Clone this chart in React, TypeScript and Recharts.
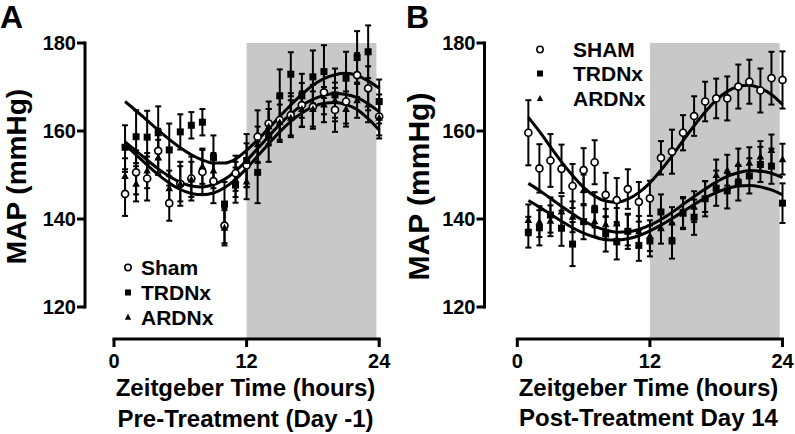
import React from "react";
import {
  ComposedChart,
  ErrorBar,
  Line,
  ReferenceArea,
  ReferenceLine,
  Scatter,
  XAxis,
  YAxis
} from "recharts";

// hours after lights on (ZT)
const hours = [1, 2, 3, 4, 5, 6, 7, 8, 9, 10, 11, 12, 13, 14, 15, 16, 17, 18, 19, 20, 21, 22, 23, 24];
const xTicks = [0, 12, 24];
const yTicks = [120, 140, 160, 180];
const darkStart = 12;
const darkEnd = 23.75;

// Panel A: pre-treatment (day -1)
const shamPre = [145.7, 150.6, 149.2, 155.5, 143.6, 148, 149.2, 150.7, 148.6, 138.5, 150.4, 152.2, 158.7, 161.7, 162.5, 163.6, 165.9, 165.5, 168.8, 164.8, 166.7, 172.7, 169.7, 163.3];
const shamPreErr = [5, 5, 5, 5, 4, 5, 5, 5, 5, 4, 4, 5, 6, 5, 5, 5, 5, 5, 5, 5, 5, 5, 5, 5];
const trdnxPre = [156.3, 158.7, 158.6, 159.6, 155.7, 159.8, 161.3, 162, 154, 143.4, 147.7, 153.3, 150.6, 159, 168, 172.9, 168, 172.3, 173.5, 168.2, 172, 176.7, 178, 166.7];
const trdnxPreErr = [5, 6, 6, 6, 6, 4, 3, 3, 5, 5, 4, 6, 7, 6, 6, 5, 5, 6, 6, 6, 6, 6, 6, 5];
const ardnxPre = [149.8, 148, 151, 154, 147, 148, 149, 152, 151, 138, 149, 148.5, 157, 161, 162, 163, 165, 165, 166, 167, 165, 167, 166, 163];
const ardnxPreErr = [4, 4, 4, 4, 4, 4, 4, 4, 4, 4, 4, 4, 4, 4, 4, 4, 4, 4, 4, 4, 4, 4, 4, 4];
const trdnxPreFit = [166.7, 164.6, 162.4, 160.2, 158.1, 156.2, 154.6, 153.4, 152.7, 152.7, 153.6, 155.6, 158, 160.6, 163.3, 165.9, 168.3, 170.4, 171.9, 172.8, 173.1, 172.6, 171.4, 169.7];
const shamPreFit = [157.5, 155.5, 153.4, 151.4, 149.7, 148.3, 147.5, 147.3, 147.8, 149, 150.9, 153.3, 156, 158.8, 161.5, 163.9, 165.8, 167.2, 168.1, 168.5, 168.3, 167.6, 166.2, 164.4];
const ardnxPreFit = [156.8, 154.6, 152.3, 150.1, 148.2, 146.7, 145.8, 145.5, 145.9, 147.1, 149, 151.5, 154.3, 157.1, 159.8, 162.2, 164.1, 165.5, 166.3, 166.5, 166, 164.9, 162.8, 160.2];

// Panel B: post-treatment day 14
const shamPost = [159.6, 151.5, 153.3, 151.4, 147.5, 151.1, 152.9, 145.5, 144.3, 146.8, 143.9, 144.7, 153.9, 155.3, 159.6, 163.4, 166.7, 167.4, 167.4, 170.1, 171.2, 169.2, 172, 171.6];
const shamPostErr = [7.4, 5.5, 6, 5.5, 5, 5, 5, 5, 5, 4.5, 4.5, 4, 3.8, 5, 4, 4.5, 4.5, 4.5, 5, 5, 5, 5, 6, 6.5];
const trdnxPost = [137, 138, 140.9, 137.9, 134.3, 139.4, 142.1, 136.6, 134.8, 137.2, 134, 135, 141.6, 135, 141.5, 140.4, 144.6, 147, 146.4, 148.2, 149.8, 152.4, 152, 143.6];
const trdnxPostErr = [3.5, 4, 4, 4, 5, 4, 4, 4, 4, 4, 3.5, 3.5, 4, 4, 3.5, 4, 4, 4, 4, 4, 4, 4, 4, 4.5];
const ardnxPost = [139.8, 139.4, 139.6, 141.7, 140.5, 146.6, 139.5, 138.8, 139, 137.5, 137.2, 136.2, 137.9, 139.2, 141.2, 142.8, 145.1, 150, 151.1, 152.5, 152.8, 154.2, 155.7, 153.6];
const ardnxPostErr = [3.5, 3.5, 3.5, 3.5, 3.5, 3.5, 3.5, 3.5, 3.5, 3.5, 3.5, 3.5, 3.5, 3.5, 3.5, 3.5, 3.5, 3.5, 3.5, 3.5, 3.5, 3.5, 3.5, 3.5];
const shamPostFit = [163.1, 159.9, 156.4, 153, 149.9, 147.2, 145.2, 144.1, 143.8, 144.5, 146, 148.2, 151.1, 154.3, 157.8, 161.2, 164.3, 167, 169, 170.1, 170.4, 169.7, 168.3, 166];
const ardnxPostFit = [148.1, 146.5, 144.7, 142.9, 141.2, 139.6, 138.3, 137.5, 137, 137.1, 137.6, 138.6, 139.9, 141.5, 143.3, 145.1, 146.8, 148.4, 149.7, 150.5, 151, 150.9, 150.4, 149.4];
const trdnxPostFit = [144.2, 142.7, 141.1, 139.5, 138, 136.8, 135.9, 135.3, 135.2, 135.5, 136.2, 137.3, 138.6, 140.1, 141.7, 143.3, 144.8, 146, 146.9, 147.5, 147.6, 147.3, 146.6, 145.5];

const FONT = '"Liberation Sans", Arial, Helvetica, sans-serif';
const H = 434;
const PLOT_TOP = 43;
const PLOT_BOTTOM = 339;
const PX_PER_HOUR = 11.05;
const Y_MAX = 180;
const Y_MIN = Y_MAX - (PLOT_BOTTOM - PLOT_TOP) / 4.4;
const X_MAX = 25;

const toPoints = (vals: number[], errs: number[]) =>
  hours.map((h, i) => ({ h, v: vals[i], e: errs[i] }));
const toFit = (vals: number[]) => hours.map((h, i) => ({ h, fit: vals[i] }));

const OpenCircle = (p: any) => (
  <circle cx={p.cx} cy={p.cy} r={3.5} fill="#fff" stroke="#000" strokeWidth={1.7} />
);
const FilledSquare = (p: any) => (
  <rect x={p.cx - 3.5} y={p.cy - 3.5} width={7} height={7} fill="#000" />
);
const FilledTriangle = (p: any) => (
  <polygon
    points={`${p.cx},${p.cy - 4} ${p.cx - 3.8},${p.cy + 3} ${p.cx + 3.8},${p.cy + 3}`}
    fill="#000"
  />
);

interface PanelProps {
  left: number;
  width: number;
  axisX: number;
  zeroX: number;
  sham: number[];
  shamErr: number[];
  trdnx: number[];
  trdnxErr: number[];
  ardnx: number[];
  ardnxErr: number[];
  fits: number[][];
}

function Panel(p: PanelProps) {
  const xMin = -(p.zeroX - p.axisX) / PX_PER_HOUR;
  const plotLeft = p.axisX - p.left;
  const plotRight = p.zeroX - p.left + X_MAX * PX_PER_HOUR;
  const yAxisW = 60;
  const xAxisH = 30;
  const margin = {
    top: PLOT_TOP,
    left: plotLeft - yAxisW,
    right: p.width - plotRight,
    bottom: H - PLOT_BOTTOM - xAxisH
  };
  const series = [
    { pts: toPoints(p.sham, p.shamErr), shape: OpenCircle },
    { pts: toPoints(p.trdnx, p.trdnxErr), shape: FilledSquare },
    { pts: toPoints(p.ardnx, p.ardnxErr), shape: FilledTriangle }
  ];
  const tickStyle = { fontSize: 20, fontWeight: 700, fill: "#000", fontFamily: FONT };

  return (
    <div style={{ position: "absolute", left: p.left, top: 0 }}>
      <ComposedChart width={p.width} height={H} margin={margin}>
        <XAxis
          type="number"
          dataKey="h"
          domain={[xMin, X_MAX]}
          ticks={xTicks}
          allowDataOverflow
          axisLine={false}
          tickSize={8}
          tickMargin={7}
          tickLine={{ stroke: "#000", strokeWidth: 3 }}
          tick={tickStyle}
          height={xAxisH}
        />
        <YAxis
          type="number"
          dataKey="v"
          domain={[Y_MIN, Y_MAX]}
          ticks={yTicks}
          allowDataOverflow
          axisLine={false}
          tickSize={8}
          tickMargin={1}
          tickLine={{ stroke: "#000", strokeWidth: 3 }}
          tick={tickStyle}
          width={yAxisW}
        />
        <ReferenceArea
          x1={darkStart}
          x2={darkEnd}
          y1={Y_MIN}
          y2={Y_MAX}
          fill="#c8c8c8"
          fillOpacity={1}
          stroke="none"
        />
        {series.map((s, i) => (
          <Scatter key={i} data={s.pts} shape={s.shape} isAnimationActive={false}>
            <ErrorBar
              dataKey="e"
              direction="y"
              width={3}
              stroke="#000"
              strokeWidth={2}
              isAnimationActive={false}
            />
          </Scatter>
        ))}
        {p.fits.map((f, i) => (
          <Line
            key={i}
            data={toFit(f)}
            dataKey="fit"
            type="monotone"
            stroke="#000"
            strokeWidth={3}
            dot={false}
            activeDot={false}
            isAnimationActive={false}
          />
        ))}
        <ReferenceLine
          segment={[{ x: xMin, y: 120 }, { x: xMin, y: 180 }]}
          stroke="#000"
          strokeWidth={3}
          strokeLinecap="square"
        />
        <ReferenceLine
          segment={[{ x: 0, y: Y_MIN }, { x: 24, y: Y_MIN }]}
          stroke="#000"
          strokeWidth={3}
          strokeLinecap="square"
        />
      </ComposedChart>
    </div>
  );
}

function LegendRows({ x, textX, rows }: { x: number; textX: number; rows: { label: string; y: number; kind: string }[] }) {
  return (
    <g>
      {rows.map((r) => (
        <g key={r.label}>
          {r.kind === "circle" && (
            <circle cx={x} cy={r.y} r={3.2} fill="#fff" stroke="#000" strokeWidth={1.5} />
          )}
          {r.kind === "square" && <rect x={x - 3} y={r.y - 3} width={6} height={6} fill="#000" />}
          {r.kind === "triangle" && (
            <polygon points={`${x},${r.y - 3.5} ${x - 3.2},${r.y + 2.5} ${x + 3.2},${r.y + 2.5}`} fill="#000" />
          )}
          <text x={textX} y={r.y + 7.5} fontSize={21} fontWeight={700} fontFamily={FONT} fill="#000">
            {r.label}
          </text>
        </g>
      ))}
    </g>
  );
}

export default function App() {
  return (
    <div style={{ position: "absolute", left: 0, top: 0, width: 795, height: H, background: "#fff" }}>
      <Panel
        left={0}
        width={397}
        axisX={85}
        zeroX={114}
        sham={shamPre}
        shamErr={shamPreErr}
        trdnx={trdnxPre}
        trdnxErr={trdnxPreErr}
        ardnx={ardnxPre}
        ardnxErr={ardnxPreErr}
        fits={[trdnxPreFit, shamPreFit, ardnxPreFit]}
      />
      <Panel
        left={397}
        width={398}
        axisX={484.5}
        zeroX={517.3}
        sham={shamPost}
        shamErr={shamPostErr}
        trdnx={trdnxPost}
        trdnxErr={trdnxPostErr}
        ardnx={ardnxPost}
        ardnxErr={ardnxPostErr}
        fits={[shamPostFit, ardnxPostFit, trdnxPostFit]}
      />
      <svg
        width={795}
        height={H}
        style={{ position: "absolute", left: 0, top: 0, pointerEvents: "none" }}
      >
        <g fontFamily={FONT} fontWeight={700} fill="#000">
          <text x={0} y={28} fontSize={32}>A</text>
          <text x={406} y={28} fontSize={32}>B</text>
          <text transform="translate(26.3,176.5) rotate(-90)" textAnchor="middle" fontSize={28}>
            MAP (mmHg)
          </text>
          <text transform="translate(428.5,186.5) rotate(-90)" textAnchor="middle" fontSize={30}>
            MAP (mmHg)
          </text>
          <text x={245.5} y={396} textAnchor="middle" fontSize={24}>Zeitgeber Time (hours)</text>
          <text x={245.5} y={426.5} textAnchor="middle" fontSize={24}>Pre-Treatment (Day -1)</text>
          <text x={648.5} y={396} textAnchor="middle" fontSize={24}>Zeitgeber Time (hours)</text>
          <text x={648.5} y={426} textAnchor="middle" fontSize={24}>Post-Treatment Day 14</text>
        </g>
        <LegendRows
          x={128}
          textX={141}
          rows={[
            { label: "Sham", y: 267.5, kind: "circle" },
            { label: "TRDNx", y: 292.5, kind: "square" },
            { label: "ARDNx", y: 317.3, kind: "triangle" }
          ]}
        />
        <LegendRows
          x={540}
          textX={573}
          rows={[
            { label: "SHAM", y: 49.5, kind: "circle" },
            { label: "TRDNx", y: 73.5, kind: "square" },
            { label: "ARDNx", y: 98.5, kind: "triangle" }
          ]}
        />
      </svg>
    </div>
  );
}
